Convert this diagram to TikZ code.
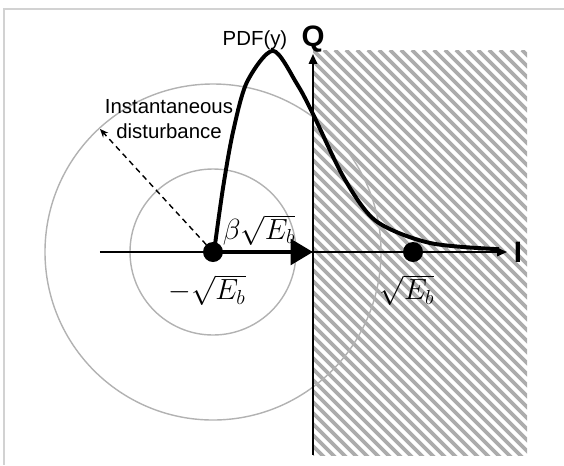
\documentclass[tikz,border=0pt]{standalone}
\usepackage{amsmath}
\usepackage{fontspec}
\setmainfont{Liberation Sans}
\usetikzlibrary{arrows.meta,positioning}
\tikzset{
  >=Stealth,
  ax/.style={line width=1.3pt},
  ring/.style={draw=gray!60, line width=1pt},
  pt/.style={circle,fill=black,inner sep=0pt,minimum size=5mm},
  hatchln/.style={gray!65, line width=2.6pt},
  pdf/.style={line width=2.8pt},
  lbl/.style={font=\fontsize{14.5}{17.8}\selectfont},
  mlbl/.style={font=\fontsize{22}{24}\selectfont},
  axlbl/.style={font=\fontsize{21}{22}\selectfont\bfseries}
}

\begin{document}
\begin{tikzpicture}
    \useasboundingbox (-7.825,-5.325) rectangle (6.275,6.3);

    % === Frame (top and left only) ===
    \draw[gray!35, line width=1.5pt] (6.275,6.075) -- (-7.725,6.075) -- (-7.725,-5.325);

    % === Hatched half plane I > 0 ===
    \begin{scope}
    \clip (0,-5.075) rectangle (5.35,5.05);
    \foreach \c in {-10.45,-10.175,...,5.5} {
        \draw[hatchln] (\c,5.05) -- ++(10.2,-10.2);
    }
    \end{scope}

    % Circles round -sqrt(Eb)
    \draw[ring] (-2.5,0) circle (2.075);
    \draw[ring] (-2.5,0) circle (4.2);

    % === Axes ===
    \coordinate (orig) at (0,0);
    \coordinate (iend) at (4.85,0);
    \coordinate (qend) at (0,4.95);
    \draw[ax, -{Triangle[length=7pt,width=6pt]}] (-5.325,0) -- (iend);
    \draw[ax, -{Triangle[length=7pt,width=6pt]}] (0,-5.075) -- (qend);
    \node[axlbl, anchor=base] (ilbl) at (5.125,-0.25) {I};
    \node[axlbl, anchor=base] (qlbl) at (0,5.15) {Q};

    % Constellation points
    \node[pt] (ldot) at (-2.5,0) {};
    \node[pt] (rdot) at (2.5,0) {};

    % PDF of the received sample
    \draw[pdf] plot[smooth, tension=0.5] coordinates {(-2.475,0) (-2.25,1.6) (-2.0,3.0) (-1.65,4.25) (-1.0,5.03) (-0.4,4.2) (0,3.45) (0.775,1.85) (1.575,0.775) (2.925,0.225) (4.65,0.07)};
    \node[lbl, anchor=base] (pdflbl) at (-1.45,5.175) {PDF(y)};

    % Disturbance
    \coordinate (dtip) at (-5.325,3.075);
    \draw[line width=1pt, dash pattern=on 4pt off 3pt, -{Stealth[length=6pt,width=5pt]}] (ldot.center) -- (dtip);
    \node[lbl, align=center] (dlbl) at (-3.6,3.32) {Instantaneous\\disturbance};

    % Mean shift
    \draw[line width=3.5pt, -{Triangle[length=16pt,width=18pt]}] (ldot.center) -- (orig);

    % === Labels ===
    \node[mlbl] (blbl) at (-1.35,0.55) {$\beta\sqrt{E_b}$};
    \node[mlbl] (llbl) at (-2.65,-0.95) {$-\sqrt{E_b}$};
    \node[mlbl] (rlbl) at (2.35,-0.95) {$\sqrt{E_b}$};

\end{tikzpicture}
\end{document}
